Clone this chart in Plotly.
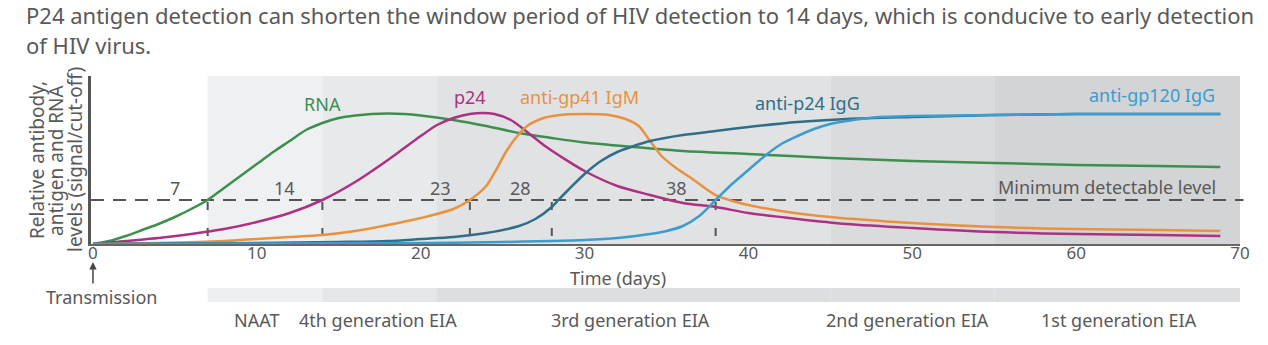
import plotly.graph_objects as go

# ---- data: relative signal levels over time (days since transmission) ----
rna_days = [0, 1, 2, 3, 4, 5, 6, 7, 8, 9, 10, 11, 12, 13, 14, 15, 16, 17, 18, 19, 20, 22,
            24, 26, 28, 30, 33, 36, 40, 45, 50, 55, 60, 65, 68.8]
rna_vals = [0, 3, 8, 14, 20, 27, 35, 44, 56, 68, 80, 92, 103, 114, 121, 126, 128.5, 130,
            130.5, 130, 128.5, 124, 118, 111, 106, 101.5, 97, 93, 90, 86, 83, 81, 79, 78, 77]

p24_days = [0, 2, 4, 6, 8, 10, 12, 14, 16, 18, 19, 20, 21, 22, 23, 23.8, 24.5, 25.5, 26.5,
            27.5, 28.5, 30, 32, 34, 36, 38, 40, 43, 46, 50, 55, 60, 65, 68.8]
p24_vals = [0, 3, 6, 10, 15, 22, 31, 44, 62, 84, 96, 108, 119, 126, 130, 131, 130, 124, 112,
            99, 88, 73, 58, 49, 41, 37, 31, 25, 20, 16, 12, 10, 9, 8]

igm_days = [0, 4, 8, 10, 12, 14, 16, 18, 20, 22, 23, 24, 24.6, 25.2, 25.8, 26.5, 27.5, 28.5,
            30, 31.5, 32.5, 33.3, 34, 34.7, 35.5, 36.5, 38, 40, 42, 45, 50, 55, 60, 65, 68.8]
igm_vals = [0, 1, 3, 5, 7, 9, 13, 19, 26, 35, 44, 58, 74, 92, 106, 118, 126, 129, 130, 129,
            125, 118, 103, 88, 77, 66, 49, 39, 33, 27, 21, 17, 15, 14, 13]

p24igg_days = [0, 5, 10, 15, 18, 20, 22, 24, 26, 27, 28, 28.4, 29, 30, 31, 32, 33, 34, 36,
               38, 40, 43, 46, 50, 55, 60, 65, 68.8]
p24igg_vals = [0, 0.5, 1, 2, 3, 5, 7, 11, 18, 25, 37, 44, 54, 70, 83, 92, 98, 103, 109, 113,
               117, 122, 125, 127, 129, 130, 130, 130]

gp120_days = [0, 10, 20, 25, 28, 30, 32, 34, 35, 36, 37, 38, 39, 40, 41, 42, 43, 44, 45, 46,
              48, 50, 55, 60, 65, 68.8]
gp120_vals = [0, 0.5, 1, 2, 3, 4, 6, 10, 13, 18, 28, 44, 60, 74, 88, 100, 108, 115, 120, 123,
              127, 128, 129, 130, 130, 130]

detection_level = 44
window_days = [7, 14, 23, 28, 38]
window_labels = ["7", "14", "23", "28", "38"]

# assay windows (start day, end day, name)
assay_start = [7, 14, 21, 45, 55]
assay_end = [14, 21, 45, 55, 70]
assay_names = ["NAAT", "4th generation EIA", "3rd generation EIA", "2nd generation EIA",
               "1st generation EIA"]

x_ticks = [0, 10, 20, 30, 40, 50, 60, 70]

heading_lines = ["P24 antigen detection can shorten the window period of HIV detection to "
                 "14 days, which is conducive to early detection",
                 "of HIV virus."]
y_title_lines = ["Relative antibody,", "antigen and RNA", "levels (signal/cut-off)"]

# ---- styling / layout ----
W, H = 1268, 345
ML, MR, MT, MB = 91, 28, 76, 101
PW, PH = W - ML - MR, H - MT - MB
FONT = "Noto Sans"
GREY = "#595959"
LABEL_SIZE = 18


def px_x(px):
    """canvas pixel column -> paper x"""
    return (px - ML) / PW


def px_y(py):
    """canvas pixel row -> paper y"""
    return (H - MB - py) / PH


series = [
    ("RNA", rna_days, rna_vals, "#3d8f4f"),
    ("p24", p24_days, p24_vals, "#ad3182"),
    ("anti-gp41 IgM", igm_days, igm_vals, "#e8923f"),
    ("anti-p24 IgG", p24igg_days, p24igg_vals, "#2e6f87"),
    ("anti-gp120 IgG", gp120_days, gp120_vals, "#3a9dcd"),
]
label_pos = {
    "RNA": (14.0, 140),
    "p24": (23.0, 147),
    "anti-gp41 IgM": (29.7, 147),
    "anti-p24 IgG": (43.6, 141),
    "anti-gp120 IgG": (64.6, 149),
}
shade_colors = ["#eff0f2", "#e8e9eb", "#e1e2e4", "#dadbdd", "#d3d4d6"]
band_colors = ["#eeeff1", "#e5e6e8", "#dddedf", "#dddedf", "#dddedf"]
assay_label_x = [10.0, 17.4, 32.8, 49.7, 62.6]
window_label_x = [5.0, 11.7, 21.2, 26.1, 35.6]

fig = go.Figure()

for name, xs, ys, color in series:
    fig.add_trace(go.Scatter(
        x=xs, y=ys, mode="lines", name=name,
        line=dict(color=color, width=2.5, shape="spline", smoothing=0.8),
        hoverinfo="skip", showlegend=False,
    ))

shapes = []
# shaded assay windows behind the curves and the band underneath the axis
for s, e, c, bc in zip(assay_start, assay_end, shade_colors, band_colors):
    shapes.append(dict(type="rect", xref="x", yref="paper", x0=s, x1=e, y0=0, y1=1,
                       fillcolor=c, line=dict(width=0), layer="below"))
    shapes.append(dict(type="rect", xref="x", yref="paper", x0=s, x1=e,
                       y0=px_y(302), y1=px_y(288),
                       fillcolor=bc, line=dict(width=0), layer="below"))

# minimum detectable level
shapes.append(dict(type="line", xref="paper", yref="y", x0=0, x1=1.003,
                   y0=detection_level, y1=detection_level,
                   line=dict(color="#555555", width=2, dash="13px,9px"), layer="below"))
# window-period markers
for d in window_days:
    shapes.append(dict(type="line", xref="x", yref="y", x0=d, x1=d, y0=8, y1=detection_level,
                       line=dict(color="#555555", width=2, dash="8px,18px"), layer="below"))

annotations = []


def text_ann(x, y, text, xref="x", yref="y", color=GREY, size=LABEL_SIZE, **kw):
    annotations.append(dict(x=x, y=y, xref=xref, yref=yref, text=text, showarrow=False,
                            xanchor=kw.pop("xanchor", "center"),
                            yanchor=kw.pop("yanchor", "middle"),
                            font=dict(family=FONT, size=size, color=color), **kw))


for name, xs, ys, color in series:
    lx, ly = label_pos[name]
    text_ann(lx, ly, name, color=color)
for lbl, lx in zip(window_labels, window_label_x):
    text_ann(lx, 56, lbl)
text_ann(61.9, 57, "Minimum detectable level")
for name, lx in zip(assay_names, assay_label_x):
    text_ann(lx, px_y(320), name, yref="paper")

# transmission arrow and label
annotations.append(dict(x=0, y=px_y(262), xref="x", yref="paper", text="", showarrow=True,
                        ax=0, ay=23, arrowhead=2, arrowsize=1, arrowwidth=1.5,
                        arrowcolor="#444444"))
text_ann(0.5, px_y(297), "Transmission", yref="paper")

# x-axis caption
text_ann(px_x(618), px_y(278), "Time (days)", xref="paper", yref="paper")

# rotated y-axis caption, one annotation per line for tight spacing
for line, cx in zip(y_title_lines, [37, 56, 75]):
    text_ann(px_x(cx), 0.5, line, xref="paper", yref="paper", size=19, textangle=-90)

# heading
for line, py in zip(heading_lines, [15, 45]):
    text_ann(px_x(24), px_y(py), line, xref="paper", yref="paper", size=22, xanchor="left")

fig.update_layout(
    width=W, height=H,
    margin=dict(l=ML, r=MR, t=MT, b=MB),
    paper_bgcolor="white", plot_bgcolor="white",
    shapes=shapes, annotations=annotations,
    font=dict(family=FONT, color=GREY, size=LABEL_SIZE),
    xaxis=dict(range=[-0.12, 70], tickvals=x_ticks, showgrid=False, zeroline=False,
               showline=True, linecolor="#666666", linewidth=2, ticks="",
               ticklabelstandoff=-7,
               tickfont=dict(size=17, color=GREY)),
    yaxis=dict(range=[0, 168], showgrid=False, zeroline=False, showticklabels=False,
               showline=True, linecolor="#555555", linewidth=2.5, ticks=""),
)

fig.write_html("out.html")
